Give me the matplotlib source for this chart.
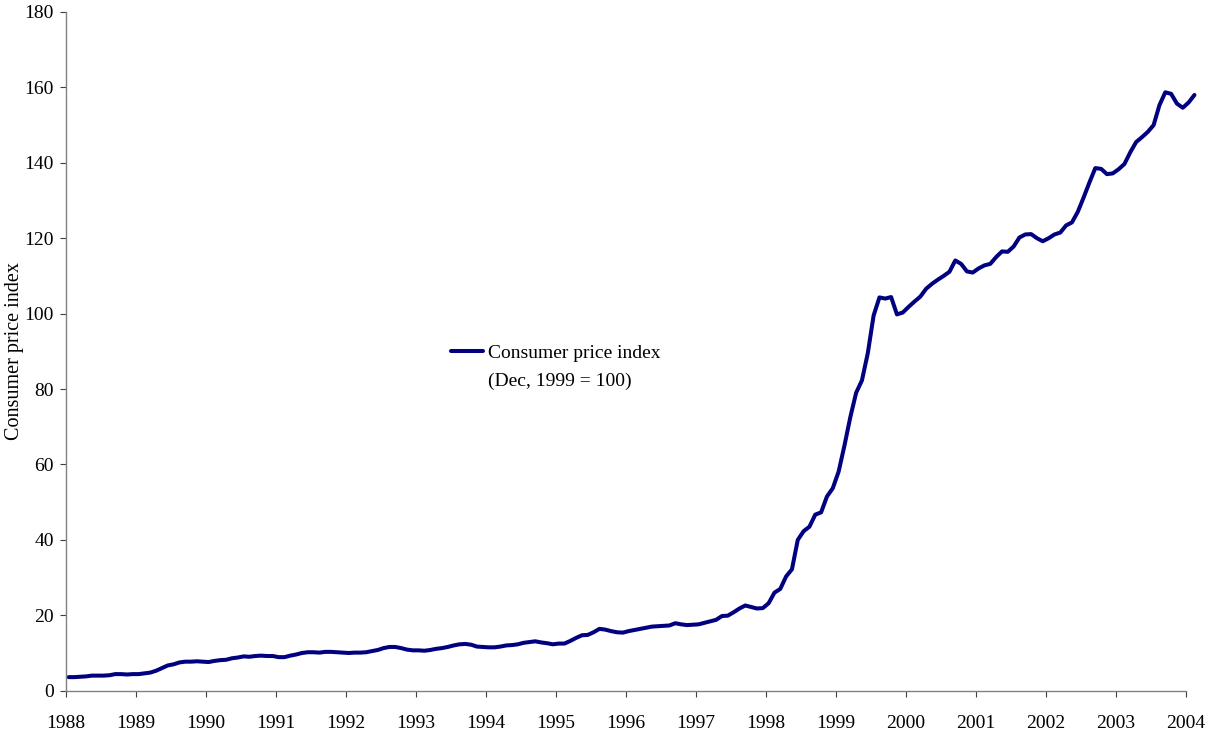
import numpy as np
import matplotlib
matplotlib.use("Agg")
import matplotlib.pyplot as plt
from matplotlib.lines import Line2D

# Monthly consumer price index (Dec 1999 = 100), Jan 1988 .. Feb 2004
cpi_1988 = [3.6, 3.6, 3.7, 3.8, 4.0, 4.0, 4.0, 4.1, 4.4, 4.4, 4.3, 4.4]
cpi_1989 = [4.4, 4.6, 4.8, 5.3, 6.0, 6.7, 7.0, 7.5, 7.7, 7.7, 7.8, 7.7]
cpi_1990 = [7.6, 7.9, 8.1, 8.2, 8.6, 8.8, 9.1, 9.0, 9.2, 9.3, 9.2, 9.2]
cpi_1991 = [8.9, 8.9, 9.3, 9.6, 10.0, 10.2, 10.2, 10.1, 10.3, 10.3, 10.2, 10.1]
cpi_1992 = [10.0, 10.1, 10.1, 10.2, 10.5, 10.8, 11.3, 11.6, 11.6, 11.3, 10.9, 10.7]
cpi_1993 = [10.7, 10.6, 10.8, 11.1, 11.3, 11.6, 12.0, 12.3, 12.4, 12.2, 11.7, 11.6]
cpi_1994 = [11.5, 11.5, 11.7, 12.0, 12.1, 12.3, 12.7, 12.9, 13.1, 12.8, 12.6, 12.3]
cpi_1995 = [12.5, 12.5, 13.2, 14.0, 14.7, 14.8, 15.5, 16.4, 16.2, 15.8, 15.5, 15.4]
cpi_1996 = [15.8, 16.1, 16.4, 16.7, 17.0, 17.1, 17.2, 17.3, 17.9, 17.6, 17.4, 17.5]
cpi_1997 = [17.6, 18.0, 18.4, 18.8, 19.8, 19.9, 20.8, 21.8, 22.6, 22.2, 21.8, 21.9]
cpi_1998 = [23.2, 26.0, 27.0, 30.3, 32.2, 40.0, 42.3, 43.5, 46.7, 47.3, 51.5, 53.7]
cpi_1999 = [58.1, 65.0, 72.5, 79.0, 82.3, 89.5, 99.5, 104.3, 104.0, 104.4, 99.8, 100.3]
cpi_2000 = [101.8, 103.2, 104.5, 106.6, 107.9, 109.0, 110.0, 111.1, 114.1, 113.2, 111.2, 110.9]
cpi_2001 = [112.0, 112.8, 113.2, 115.0, 116.5, 116.4, 117.8, 120.2, 121.0, 121.1, 120.0, 119.2]
cpi_2002 = [120.0, 121.0, 121.5, 123.4, 124.2, 127.0, 130.8, 134.8, 138.6, 138.4, 137.0, 137.2]
cpi_2003 = [138.3, 139.7, 142.8, 145.5, 146.8, 148.2, 150.0, 155.3, 158.7, 158.3, 155.7, 154.6]
cpi_2004 = [156.0, 158.0]

year_ticks = list(range(1988, 2005))
series_label = "Consumer price index"
series_note = "(Dec, 1999 = 100)"
y_label = "Consumer price index"

values = np.array(cpi_1988 + cpi_1989 + cpi_1990 + cpi_1991 + cpi_1992 + cpi_1993 +
                  cpi_1994 + cpi_1995 + cpi_1996 + cpi_1997 + cpi_1998 + cpi_1999 +
                  cpi_2000 + cpi_2001 + cpi_2002 + cpi_2003 + cpi_2004)
# mid-month dates as fractional years
months = np.arange(len(values))
dates = 1988 + (months + 0.5) / 12.0

plt.rcParams['font.family'] = ['Liberation Serif', 'DejaVu Serif']

W, H = 1212, 736
fig = plt.figure(figsize=(W / 100, H / 100), dpi=100)
ax = fig.add_axes([65.7 / W, 1 - 690.7 / H, (1185.7 - 65.7) / W, (690.7 - 12) / H])

line, = ax.plot(dates, values, color='#000080', lw=2.9, solid_joinstyle='round',
                solid_capstyle='round', clip_on=False)

ax.set_xlim(1988, 2004)
ax.set_ylim(0, 180)
ax.set_xticks(year_ticks)
ax.set_xticklabels([str(y) for y in year_ticks])
ax.set_yticks(np.arange(0, 181, 20))

for s in ['top', 'right']:
    ax.spines[s].set_visible(False)
for s in ['left', 'bottom']:
    ax.spines[s].set_color('#808080')
    ax.spines[s].set_linewidth(1.0)

ax.tick_params(axis='x', direction='out', length=4.5, width=0.8, color='#404040',
               labelsize=14, pad=13)
ax.tick_params(axis='y', direction='out', length=4.5, width=0.8, color='#404040',
               labelsize=14, pad=4)
ax.set_ylabel(y_label, fontsize=14.5, labelpad=0)

blank = Line2D([], [], color='none')
leg = ax.legend([line, blank], [series_label, series_note],
                loc='upper left', bbox_to_anchor=(450.7 / W, 1 - 344 / H),
                bbox_transform=fig.transFigure, frameon=False, fontsize=14,
                handlelength=1.68, handletextpad=0.26, borderpad=0,
                borderaxespad=0, labelspacing=0.55)

fig.savefig('out.png', dpi=100)
